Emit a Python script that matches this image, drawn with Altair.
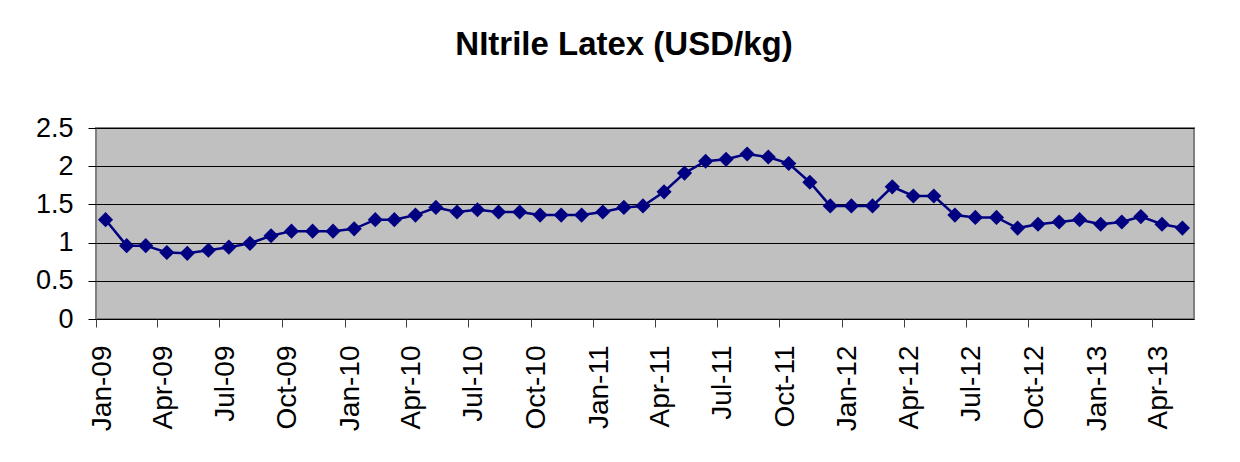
import altair as alt
import pandas as pd

# Monthly observations (plotted mid-month), Jan-2009 .. May-2013
years_months = [(y, m) for y in range(2009, 2014) for m in range(1, 13)][:53]
dates = [f"{y}-{m:02d}-15" for (y, m) in years_months]

prices = [
    1.30, 0.96, 0.96, 0.87, 0.86, 0.90, 0.94, 0.99, 1.09, 1.15, 1.15, 1.15,
    1.18, 1.30, 1.30, 1.36, 1.46, 1.40, 1.43, 1.40, 1.40, 1.36, 1.36, 1.36,
    1.40, 1.46, 1.48, 1.665, 1.91, 2.065, 2.09, 2.16, 2.12, 2.035, 1.79, 1.48,
    1.48, 1.48, 1.73, 1.61, 1.61, 1.36, 1.33, 1.33, 1.19, 1.24, 1.27, 1.30,
    1.24, 1.27, 1.34, 1.24, 1.19,
]

# Axis tick positions (quarter starts) and y ticks
tick_years = [2009, 2009, 2009, 2009, 2010, 2010, 2010, 2010, 2011, 2011, 2011, 2011,
              2012, 2012, 2012, 2012, 2013, 2013]
tick_months = [1, 4, 7, 10] * 4 + [1, 4]
y_ticks = [0, 0.5, 1, 1.5, 2, 2.5]

df = pd.DataFrame({"date": dates, "price": prices})

x_values = [alt.DateTime(year=y, month=m, date=1, utc=True) for y, m in zip(tick_years, tick_months)]
x_domain = [alt.DateTime(year=2009, month=1, date=1, utc=True),
            alt.DateTime(year=2013, month=6, date=1, utc=True)]

FONT = "Liberation Sans"
NAVY = "#000080"

x_enc = alt.X(
    "date:T",
    scale=alt.Scale(type="utc", domain=x_domain),
    axis=alt.Axis(
        values=x_values,
        labelExpr="utcFormat(datum.value, '%b-%y')",
        labelAngle=270,
        labelPadding=18,
        labelOffset=6,
        labelFontSize=28,
        labelFont=FONT,
        labelColor="black",
        tickSize=8,
        tickColor="#404040",
        tickWidth=1,
        domain=False,
        grid=False,
        title=None,
        labelOverlap=False,
    ),
)
y_enc = alt.Y(
    "price:Q",
    scale=alt.Scale(domain=[0, 2.5], nice=False, zero=True),
    axis=alt.Axis(
        values=y_ticks,
        format=".1~f",
        labelFontSize=27,
        labelFont=FONT,
        labelColor="black",
        labelPadding=15,
        tickSize=8,
        tickColor="black",
        tickWidth=1,
        domain=False,
        grid=True,
        gridColor="black",
        gridWidth=1,
        title=None,
    ),
)

base = alt.Chart(df).encode(x=x_enc, y=y_enc)
line = base.mark_line(color=NAVY, strokeWidth=2.5)
pts = base.mark_point(shape="diamond", filled=True, color=NAVY, size=230, opacity=1)

chart = (
    alt.layer(line, pts)
    .properties(
        width=1098,
        height=191,
        title=alt.TitleParams(
            "NItrile Latex (USD/kg)",
            font=FONT,
            fontSize=33,
            fontWeight="bold",
            color="black",
            dx=-21,
            offset=26,
            baseline="alphabetic",
        ),
        autosize=alt.AutoSizeParams(type="none"),
        padding={"left": 88, "top": 120, "right": 38, "bottom": 135},
        background="white",
    )
    .configure_view(fill="#C0C0C0", stroke="#808080", strokeWidth=2)
)

chart.save("out.html", embed_options={"renderer": "svg", "actions": False})
